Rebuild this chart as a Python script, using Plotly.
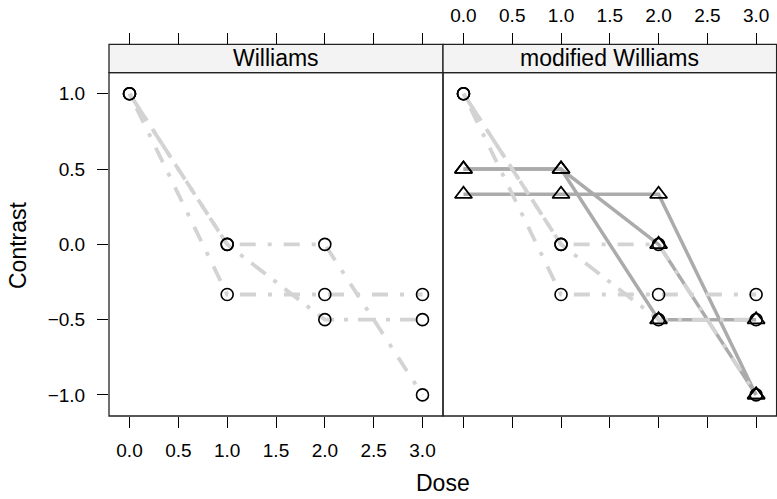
import plotly.graph_objects as go

# ---- data ----
doses = [0, 1, 2, 3]
williams_c1 = [1.0, 0.0, 0.0, -1.0]
williams_c2 = [1.0, 0.0, -0.5, -0.5]
williams_c3 = [1.0, -0.333, -0.333, -0.333]
modified_c1 = [0.5, 0.5, 0.0, -1.0]
modified_c2 = [0.5, 0.5, -0.5, -0.5]
modified_c3 = [0.333, 0.333, 0.333, -1.0]
panel_titles = ["Williams", "modified Williams"]
x_tickvals = [0, 0.5, 1, 1.5, 2, 2.5, 3]
x_ticktext = ["0.0", "0.5", "1.0", "1.5", "2.0", "2.5", "3.0"]
y_tickvals = [-1, -0.5, 0, 0.5, 1]
y_ticktext = ["\u22121.0", "\u22120.5", "0.0", "0.5", "1.0"]

W, H = 777, 499
FONT = "Liberation Sans, Arial, Helvetica, sans-serif"

# layout geometry (pixels -> paper)
px_left, px_mid, px_right = 109, 443, 776.6
py_strip_top, py_panel_top, py_panel_bot = 44.3, 72.7, 416
dom_left = [px_left / W, px_mid / W]
dom_right = [px_mid / W, px_right / W]
ydom = [1 - py_panel_bot / H, 1 - py_panel_top / H]
strip_top = 1 - py_strip_top / H

LIGHT = "#d3d3d3"
DARK = "#ababab"
w_dashes = ["4px,12px,16px,12px", "18px,10px,4px,10px", "4px,12px,16px,12px"]
williams = [williams_c1, williams_c2, williams_c3]
modified = [modified_c1, modified_c2, modified_c3]

fig = go.Figure()

# modified lines (right panel) first
for m in modified:
    fig.add_trace(go.Scatter(x=doses, y=m, mode="lines", xaxis="x2", yaxis="y2",
                             line=dict(color=DARK, width=3.5), showlegend=False, hoverinfo="skip"))
# williams lines in both panels
for xa, ya in [("x", "y"), ("x2", "y2")]:
    for c, d in zip(williams, w_dashes):
        fig.add_trace(go.Scatter(x=doses, y=c, mode="lines", xaxis=xa, yaxis=ya,
                                 line=dict(color=LIGHT, width=3.8, dash=d),
                                 showlegend=False, hoverinfo="skip"))
# williams markers
for xa, ya in [("x", "y"), ("x2", "y2")]:
    for c in williams:
        fig.add_trace(go.Scatter(x=doses, y=c, mode="markers", xaxis=xa, yaxis=ya,
                                 marker=dict(symbol="circle-open", size=12, color="black",
                                             line=dict(width=1.6, color="black")),
                                 showlegend=False, cliponaxis=False))
# modified markers
for m in modified:
    fig.add_trace(go.Scatter(x=doses, y=m, mode="markers", xaxis="x2", yaxis="y2",
                             marker=dict(symbol="triangle-up-open", size=15, color="black",
                                         line=dict(width=1.8, color="black")),
                             showlegend=False, cliponaxis=False))

xr = [-0.21, 3.21]
yr = [-1.14, 1.14]
tickfont = dict(family=FONT, size=19, color="black")
common_x = dict(range=xr, tickvals=x_tickvals, ticktext=x_ticktext, ticks="outside",
                ticklen=11, tickwidth=1, tickcolor="black", showgrid=False, zeroline=False,
                showline=False, tickfont=tickfont, fixedrange=True)

fig.update_layout(
    width=W, height=H,
    margin=dict(l=0, r=0, t=0, b=0, pad=0),
    paper_bgcolor="white", plot_bgcolor="white",
    font=dict(family=FONT, color="black"),
    xaxis=dict(domain=dom_left, anchor="y", side="bottom", ticklabelstandoff=6, **common_x),
    xaxis2=dict(domain=dom_right, anchor="y2", side="bottom", showticklabels=False, **common_x),
    xaxis3=dict(overlaying="x", anchor="free", position=strip_top, side="top",
                showticklabels=False, **common_x),
    xaxis4=dict(overlaying="x2", anchor="free", position=strip_top, side="top",
                ticklabelstandoff=4, **common_x),
    yaxis=dict(domain=ydom, anchor="x", range=yr, tickvals=y_tickvals, ticktext=y_ticktext,
               ticks="outside", ticklen=11, tickwidth=1, tickcolor="black", showgrid=False,
               zeroline=False, showline=False, tickfont=tickfont, ticklabelstandoff=8,
               fixedrange=True),
    yaxis2=dict(domain=ydom, anchor="x2", range=yr, showticklabels=False, ticks="",
                showgrid=False, zeroline=False, showline=False, fixedrange=True),
)

# invisible traces for the top overlay axes so they render
fig.add_trace(go.Scatter(x=[None], y=[None], xaxis="x3", yaxis="y", showlegend=False))
fig.add_trace(go.Scatter(x=[None], y=[None], xaxis="x4", yaxis="y2", showlegend=False))

shapes = []
for xa in ["x", "x2"]:
    # strip
    shapes.append(dict(type="rect", xref=f"{xa} domain", yref="paper", x0=0, x1=1,
                       y0=ydom[1], y1=strip_top, fillcolor="#f3f3f3",
                       line=dict(color="#222222", width=1.3), layer="below"))
    # panel border
    shapes.append(dict(type="rect", xref=f"{xa} domain", yref=f"{'y' if xa == 'x' else 'y2'} domain",
                       x0=0, x1=1, y0=0, y1=1, line=dict(color="#222222", width=1.3),
                       fillcolor="rgba(0,0,0,0)", layer="above"))
fig.update_layout(shapes=shapes)

annotations = []
for xa, title in zip(["x", "x2"], panel_titles):
    annotations.append(dict(text=title, xref=f"{xa} domain", yref="paper", x=0.5,
                            y=(ydom[1] + strip_top) / 2, showarrow=False,
                            xanchor="center", yanchor="middle",
                            font=dict(family=FONT, size=23, color="black")))
annotations.append(dict(text="Contrast", xref="paper", yref="paper", x=18 / W,
                        y=1 - 245 / H, textangle=-90, showarrow=False,
                        xanchor="center", yanchor="middle",
                        font=dict(family=FONT, size=23, color="black")))
annotations.append(dict(text="Dose", xref="paper", yref="paper", x=px_mid / W,
                        y=1 - 483 / H, showarrow=False, xanchor="center", yanchor="middle",
                        font=dict(family=FONT, size=23, color="black")))
fig.update_layout(annotations=annotations)

fig.write_html("out.html")
